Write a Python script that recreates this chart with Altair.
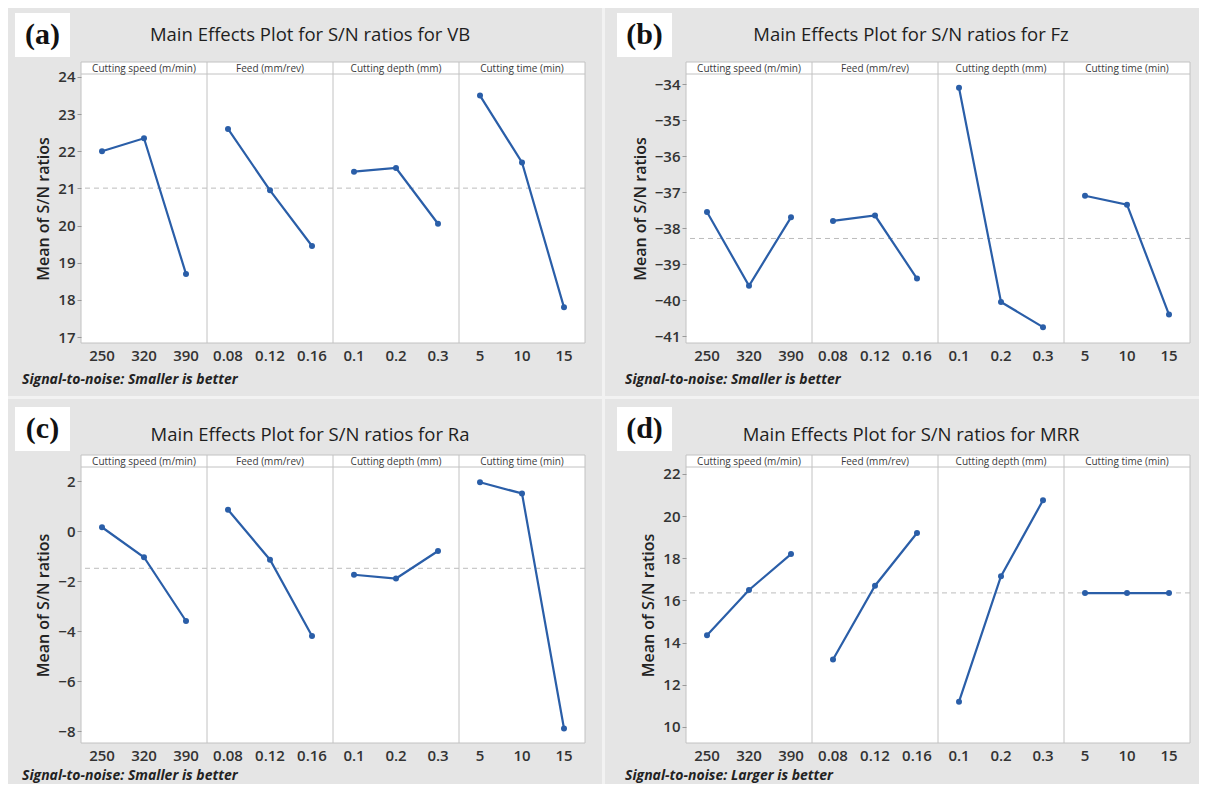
import altair as alt
import pandas as pd
import numpy as np

# ---------------- data ----------------
LEVELS = ["250", "320", "390", "0.08", "0.12", "0.16", "0.1", "0.2", "0.3", "5", "10", "15"]
FACTORS = ["Cutting speed (m/min)", "Feed (mm/rev)", "Cutting depth (mm)", "Cutting time (min)"]
FACTOR_OF_LEVEL = [f for f in FACTORS for _ in range(3)]
HEADER_AT = ["320", "0.12", "0.2", "10"]      # middle level of each factor (header position)
SEPARATOR_AT = ["0.08", "0.1", "5"]            # first level of factors 2..4 (panel dividers)

VB = [22.0, 22.35, 18.7, 22.6, 20.95, 19.45, 21.45, 21.55, 20.05, 23.5, 21.7, 17.8]
FZ = [-37.55, -39.6, -37.7, -37.8, -37.65, -39.4, -34.1, -40.05, -40.75, -37.1, -37.35, -40.4]
RA = [0.15, -1.05, -3.6, 0.85, -1.15, -4.2, -1.75, -1.9, -0.8, 1.95, 1.5, -7.9]
MRR = [14.35, 16.5, 18.2, 13.2, 16.7, 19.2, 11.2, 17.15, 20.75, 16.35, 16.35, 16.35]

TICKS_VB = [17, 18, 19, 20, 21, 22, 23, 24]
TICKS_FZ = [-41, -40, -39, -38, -37, -36, -35, -34]
TICKS_RA = [-8, -6, -4, -2, 0, 2]
TICKS_MRR = [10, 12, 14, 16, 18, 20, 22]

TITLES = ["Main Effects Plot for S/N ratios for VB",
          "Main Effects Plot for S/N ratios for Fz",
          "Main Effects Plot for S/N ratios for Ra",
          "Main Effects Plot for S/N ratios for MRR"]
TAGS = ["(a)", "(b)", "(c)", "(d)"]
NOTES = ["Signal-to-noise: Smaller is better", "Signal-to-noise: Smaller is better",
         "Signal-to-noise: Smaller is better", "Signal-to-noise: Larger is better"]

# ---------------- style ----------------
FONT = "Open Sans"
BLUE = "#2a5ea8"
PANEL_BG = "#e5e5e5"
PAGE_BG = "#f2f2f2"
FRAME = "#c2c2c2"
W = 504
HDR = 12
PANEL_W = 594


def panel(idx, vals, ticks, domain, row):
    if row == 0:
        T, H, PH = 54, 281, 388
        title_y, note_y, tag_y0, tag_y1 = -27, 318, -49, -5
    else:
        T, H, PH = 56, 288, 385
        title_y, note_y, tag_y0, tag_y1 = -20, 321, -48, -4
    col = idx % 2
    L = 73 if col == 0 else 81
    R = PANEL_W - L - W
    B = PH - T - H
    title_x = 229 if col == 0 else 225
    tag_x0 = -66 if col == 0 else -69
    note_x = -59 if col == 0 else -61

    df = pd.DataFrame({"level": LEVELS, "factor": FACTOR_OF_LEVEL, "value": vals})
    mean = float(np.mean(vals))
    one = pd.DataFrame({"k": [0]})

    xs = alt.Scale(type="band", domain=LEVELS, paddingInner=0, paddingOuter=0)
    xaxis = alt.Axis(title=None, labelFontSize=15, labelColor="#333", labelFont=FONT,
                     labelFontWeight=600, ticks=False, domain=False, labelPadding=5,
                     labelAngle=0, zindex=1, labelOverlap=False, grid=False)
    ys = alt.Scale(domain=domain, range=[H, HDR], zero=False, nice=False)
    yaxis = alt.Axis(values=ticks, format="d", title="Mean of S/N ratios", titleFontSize=16,
                     titleFont=FONT, titleFontWeight=600, titleColor="#222", titlePadding=6,
                     labelFontSize=15, labelFont=FONT, labelFontWeight=600, labelColor="#333",
                     tickSize=4, tickColor="#999", domain=False, grid=False, zindex=1)

    X = alt.X("level:N", scale=xs, axis=xaxis, bandPosition=0.5)
    Y = alt.Y("value:Q", scale=ys, axis=yaxis)

    bg = alt.Chart(one).mark_rect(color=PANEL_BG).encode(
        x=alt.value(-L), x2=alt.value(W + R), y=alt.value(-T), y2=alt.value(H + B))
    box = alt.Chart(one).mark_rect(fill="white", stroke=FRAME, strokeWidth=1).encode(
        x=alt.value(0), x2=alt.value(W), y=alt.value(0), y2=alt.value(H))
    meanrule = alt.Chart(one).mark_rule(color="#bcbcbc", strokeDash=[5, 4], strokeWidth=1).encode(
        y=alt.Y(datum=mean, scale=ys, axis=yaxis))
    seps = alt.Chart(pd.DataFrame({"level": SEPARATOR_AT})).mark_rule(color=FRAME).encode(
        x=alt.X("level:N", scale=xs, axis=xaxis, bandPosition=0))
    hrule = alt.Chart(one).mark_rule(color=FRAME).encode(y=alt.value(HDR))
    htext = alt.Chart(pd.DataFrame({"level": HEADER_AT, "factor": FACTORS})).mark_text(
        fontSize=10, font=FONT, color="#3a3a3a", baseline="middle").encode(
        x=X, y=alt.value(HDR / 2 + 0.5), text="factor:N")
    line = alt.Chart(df).mark_line(color=BLUE, strokeWidth=2.2).encode(x=X, y=Y, detail="factor:N")
    pts = alt.Chart(df).mark_circle(color=BLUE, size=36, opacity=1).encode(x=X, y=Y)
    title = alt.Chart(one).mark_text(text=TITLES[idx], fontSize=18.5, font=FONT, color="#1e1e1e",
                                     baseline="middle").encode(
        x=alt.value(title_x), y=alt.value(title_y))
    tagbox = alt.Chart(one).mark_rect(fill="white").encode(
        x=alt.value(tag_x0), x2=alt.value(tag_x0 + 55), y=alt.value(tag_y0), y2=alt.value(tag_y1))
    tagtext = alt.Chart(one).mark_text(text=TAGS[idx], fontSize=30, font="Liberation Serif",
                                       fontWeight="bold", color="#111", baseline="middle").encode(
        x=alt.value(tag_x0 + 27.5), y=alt.value((tag_y0 + tag_y1) / 2))
    note = alt.Chart(one).mark_text(text=NOTES[idx], fontSize=14, font=FONT, fontWeight="bold",
                                    fontStyle="italic", color="#222", align="left",
                                    baseline="middle").encode(
        x=alt.value(note_x), y=alt.value(note_y))

    return alt.layer(bg, box, meanrule, seps, hrule, htext, line, pts,
                     title, tagbox, tagtext, note).properties(width=W, height=H)


a = panel(0, VB, TICKS_VB, [16.84, 24.08], 0)
b = panel(1, FZ, TICKS_FZ, [-41.19, -33.72], 0)
c = panel(2, RA, TICKS_RA, [-8.48, 2.56], 1)
d = panel(3, MRR, TICKS_MRR, [9.24, 22.33], 1)

chart = alt.vconcat(
    alt.hconcat(a, b, spacing=3),
    alt.hconcat(c, d, spacing=3),
    spacing=3,
).properties(padding=0, background=PAGE_BG).configure_view(stroke=None).configure_concat(spacing=3)

chart.save("out.html", embed_options={"renderer": "svg", "actions": False})
